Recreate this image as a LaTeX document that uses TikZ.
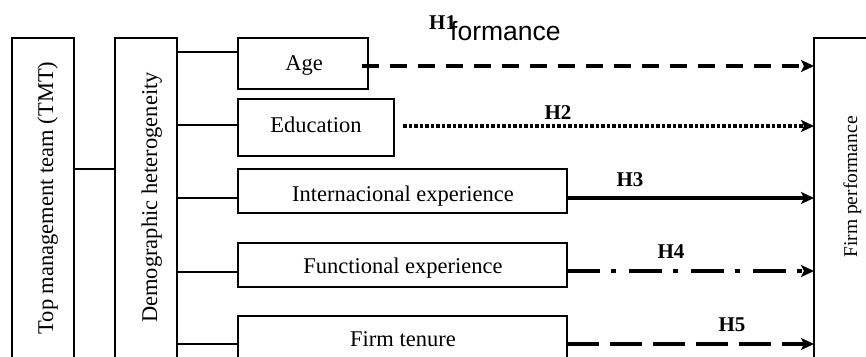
\documentclass[tikz,border=0pt]{standalone}
\usepackage{fontspec}
\setmainfont{Liberation Serif}
\newfontfamily\arialf{Liberation Sans}
\usetikzlibrary{arrows.meta}
\tikzset{
  box/.style={draw, line width=1.5pt, inner sep=0pt, outer sep=0pt},
  conn/.style={line width=1.5pt},
  lbl/.style={inner sep=0pt, font=\fontsize{22.5}{27}\selectfont},
  vlbl/.style={inner sep=0pt, rotate=90, anchor=base, font=\fontsize{22.5}{27}\selectfont},
  hlbl/.style={inner sep=0pt, anchor=base, font=\fontsize{21}{25}\selectfont\bfseries},
  arr/.style={line width=4pt, -{Stealth[length=13pt,width=12pt,inset=3pt]}},
}
\begin{document}
\begin{tikzpicture}[x=1pt, y=-1pt]
\useasboundingbox (0,0) rectangle (866,356);
\clip (0,0) rectangle (866,356);
\fill[white] (0,0) rectangle (866,356);

% main boxes
\node[box, minimum width=62pt, minimum height=362pt] (tmt) at (43,219) {};
\node[box, minimum width=62pt, minimum height=362pt] (demo) at (146,219) {};
\node[box, minimum width=100pt, minimum height=362pt] (firm) at (864,219) {};

\node[box, minimum width=130pt, minimum height=51pt] (age) at (303,63.5) {};
\node[box, minimum width=156pt, minimum height=57pt] (edu) at (316,127.5) {};
\node[box, minimum width=329pt, minimum height=44pt] (intl) at (402.5,191) {};
\node[box, minimum width=329pt, minimum height=44pt] (func) at (402.5,265) {};
\node[box, minimum width=329pt, minimum height=84pt] (ten) at (402.5,358) {};

% texts
\node[vlbl] (tmttxt) at (53,198) {Top management team (TMT)};
\node[vlbl] (demotxt) at (157,197.5) {Demographic heterogeneity};
\node[vlbl, font=\fontsize{19.5}{24}\selectfont] (firmtxt) at (857,187) {Firm performance};

\node[lbl, anchor=base] (agetxt) at (304,70) {Age};
\node[lbl, anchor=base] (edutxt) at (316,132) {Education};
\node[lbl, anchor=base] (intltxt) at (403,201) {Internacional experience};
\node[lbl, anchor=base] (functxt) at (403,273) {Functional experience};
\node[lbl, anchor=base] (tentxt) at (403,346) {Firm tenure};

% connectors
\draw[conn] (tmt.east |- 0,169) -- (demo.west |- 0,169);
\draw[conn] (demo.east |- 0,52) -- (age.west |- 0,52);
\draw[conn] (demo.east |- 0,125) -- (edu.west |- 0,125);
\draw[conn] (demo.east |- 0,198) -- (intl.west |- 0,198);
\draw[conn] (demo.east |- 0,272) -- (func.west |- 0,272);
\draw[conn] (demo.east |- 0,344) -- (ten.west |- 0,344);

% hypothesis arrows
\coordinate (s1) at (362,66);
\coordinate (s2) at (403,126);
\draw[arr, dash pattern=on 17pt off 11pt] (s1) -- (firm.west |- s1);
\draw[arr, dash pattern=on 3.5pt off 2pt] (s2) -- (firm.west |- s2);
\draw[arr, line width=3.5pt] (intl.east |- 0,198) -- (firm.west |- 0,198);
\draw[arr, dash pattern=on 33pt off 11pt on 5pt off 13pt] (func.east |- 0,271) -- (firm.west |- 0,271);
\draw[arr, dash pattern=on 32pt off 11pt] (ten.east |- 0,344) -- (firm.west |- 0,344);

% labels
\node[hlbl, anchor=base west] (h1) at (429,29) {H1};
\node[inner sep=0pt, anchor=base west, font=\arialf\fontsize{26.5}{30}\selectfont] (form) at (450,40) {formance};
\node[hlbl] (h2) at (558,119) {H2};
\node[hlbl] (h3) at (630,186) {H3};
\node[hlbl] (h4) at (671,258) {H4};
\node[hlbl] (h5) at (732,331) {H5};
\end{tikzpicture}
\end{document}
